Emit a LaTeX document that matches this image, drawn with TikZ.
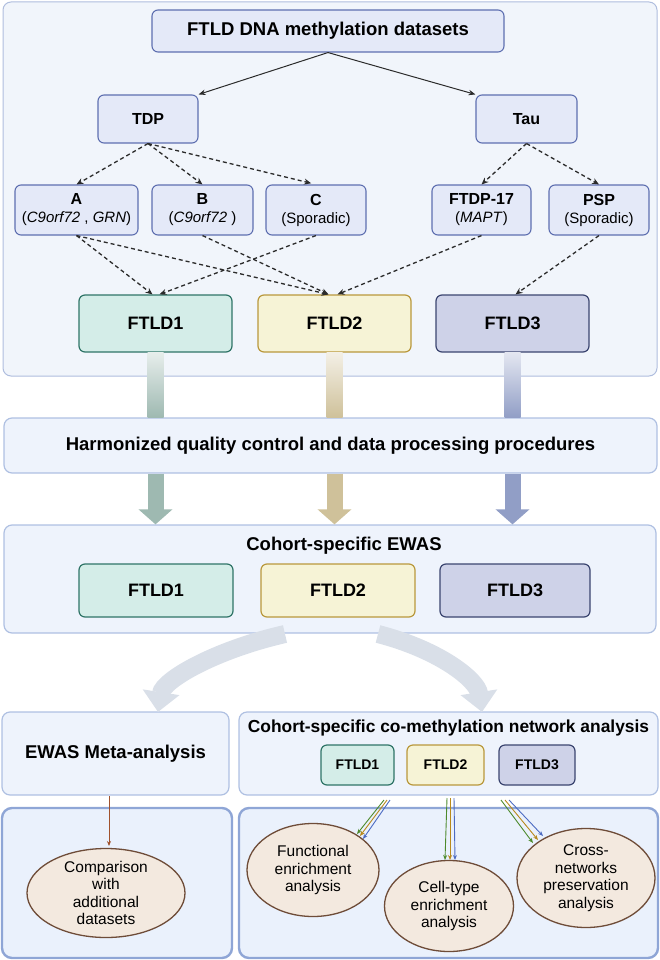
\documentclass[tikz,border=0pt]{standalone}
\usepackage{fontspec}
\setmainfont{Liberation Sans}
\usetikzlibrary{arrows.meta,shapes.geometric,calc}
\newcommand{\myfs}[2]{\fontsize{#1}{#2}\selectfont}
\definecolor{outerfill}{HTML}{F1F5FB}
\definecolor{outerdraw}{HTML}{AFBDDE}
\definecolor{boxfill}{HTML}{E4E9F8}
\definecolor{boxdraw}{HTML}{5E6FB0}
\definecolor{harmfill}{HTML}{EEF3FC}
\definecolor{harmdraw}{HTML}{AFC0E2}
\definecolor{gAfill}{HTML}{D4EDE8}
\definecolor{gAdraw}{HTML}{2F7467}
\definecolor{gBfill}{HTML}{F6F3D6}
\definecolor{gBdraw}{HTML}{B9983C}
\definecolor{gCfill}{HTML}{CED2E8}
\definecolor{gCdraw}{HTML}{3B4570}
\definecolor{panelfill}{HTML}{EAF1FC}
\definecolor{paneldraw}{HTML}{8FA6D6}
\definecolor{ellfill}{HTML}{F3E9DF}
\definecolor{elldraw}{HTML}{6E4C38}
\definecolor{arcgray}{HTML}{D9DFE8}
\definecolor{arA}{HTML}{9EB9B1}
\definecolor{arB}{HTML}{CFC19A}
\definecolor{arC}{HTML}{919EC6}
\definecolor{lgreen}{HTML}{4D8A2C}
\definecolor{lgold}{HTML}{B8891C}
\definecolor{lblue}{HTML}{4C6BC2}
\definecolor{lbrown}{HTML}{A0522D}
\definecolor{darkline}{HTML}{2B2B2B}
\begin{document}
\begin{tikzpicture}[x=1pt,y=-1pt,
  panel/.style={draw=outerdraw, fill=outerfill, rounded corners=8pt, line width=1pt, inner sep=0pt},
  lpanel/.style={draw=harmdraw, fill=harmfill, rounded corners=8pt, line width=1.2pt, inner sep=0pt},
  bpanel/.style={draw=paneldraw, fill=panelfill, rounded corners=10pt, line width=2.4pt, inner sep=0pt},
  rbox/.style={draw=boxdraw, fill=boxfill, rounded corners=6pt, line width=1.1pt, inner sep=0pt, align=center},
  grpA/.style={draw=gAdraw, fill=gAfill, rounded corners=6pt, line width=1.2pt, inner sep=0pt, font=\bfseries\myfs{18}{20}},
  grpB/.style={draw=gBdraw, fill=gBfill, rounded corners=6pt, line width=1.2pt, inner sep=0pt, font=\bfseries\myfs{18}{20}},
  grpC/.style={draw=gCdraw, fill=gCfill, rounded corners=6pt, line width=1.2pt, inner sep=0pt, font=\bfseries\myfs{18}{20}},
  ell/.style={ellipse, draw=elldraw, fill=ellfill, line width=1.3pt, inner sep=-14pt, align=center, font=\myfs{15.5}{17.5}},
  solidarr/.style={draw=darkline, line width=1pt, -{Stealth[length=7pt,width=5.5pt]}},
  dasharr/.style={draw=darkline, line width=1.3pt, dash pattern=on 4pt off 3pt, -{Stealth[length=7pt,width=6pt]}},
  thinarr/.style={line width=0.9pt, -{Stealth[length=5pt,width=4pt]}},
  bigarr/.style={line width=16pt, -{Triangle[width=33pt,length=15pt]}},
  arcarr/.style={draw=arcgray, line width=18pt, -{Triangle[width=36pt,length=20pt]}}
]
\useasboundingbox (0,0) rectangle (660,960);

% top panel
\node[panel, minimum width=654pt, minimum height=374pt] (outer) at (330,189) {};

\node[rbox, minimum width=352pt, minimum height=42pt, font=\bfseries\myfs{18.5}{22}] (title) at (328,31) {FTLD DNA methylation datasets};
\node[rbox, minimum width=100pt, minimum height=48pt, font=\bfseries\myfs{16}{18}] (tdp) at (148,119) {TDP};
\node[rbox, minimum width=101pt, minimum height=48pt, font=\bfseries\myfs{16}{18}] (tau) at (526.5,119) {Tau};

\node[rbox, minimum width=123pt, minimum height=50pt, font=\myfs{15}{18}] (A) at (76.5,210) {{\bfseries\myfs{16}{18}A}\\(\textit{C9orf72} , \textit{GRN})};
\node[rbox, minimum width=101pt, minimum height=50pt, font=\myfs{15}{18}] (B) at (202.5,210) {{\bfseries\myfs{16}{18}B}\\(\textit{C9orf72} )};
\node[rbox, minimum width=100pt, minimum height=50pt, font=\myfs{15}{18}] (C) at (316,210) {{\bfseries\myfs{16}{18}C}\\(Sporadic)};
\node[rbox, minimum width=99pt, minimum height=50pt, font=\myfs{15}{18}] (fdp) at (481.5,210) {{\bfseries\myfs{16}{18}FTDP-17}\\(\textit{MAPT})};
\node[rbox, minimum width=100pt, minimum height=50pt, font=\myfs{15}{18}] (psp) at (599,210) {{\bfseries\myfs{16}{18}PSP}\\(Sporadic)};

\node[grpA, minimum width=153pt, minimum height=57pt] (ftA) at (155.5,323.5) {FTLD1};
\node[grpB, minimum width=153pt, minimum height=57pt] (ftB) at (334.5,323.5) {FTLD2};
\node[grpC, minimum width=153pt, minimum height=57pt] (ftC) at (512.5,323.5) {FTLD3};

\draw[solidarr] (title.south) -- (tdp.north east);
\draw[solidarr] (title.south) -- (tau.north west);
\draw[dasharr] (tdp.south) -- (A.north);
\draw[dasharr] (tdp.south) -- (B.north);
\draw[dasharr, shorten >=5pt] (tdp.south) -- (C.north);
\draw[dasharr] (tau.south) -- (fdp.north);
\draw[dasharr] (tau.south) -- (psp.north);
\draw[dasharr] (A.south) -- ([xshift=-3pt]ftA.north);
\draw[dasharr] (A.south) -- ([xshift=-6pt]ftB.north);
\draw[dasharr] (B.south) -- ([xshift=-6pt]ftB.north);
\draw[dasharr] (C.south) -- ([xshift=4pt]ftA.north);
\draw[dasharr] (fdp.south) -- ([xshift=3pt]ftB.north);
\draw[dasharr] (psp.south) -- ([xshift=3pt]ftC.north);

% harmonized
\node[lpanel, minimum width=653pt, minimum height=55pt, font=\bfseries\myfs{18.5}{22}] (harm) at (330.5,445.5) {Harmonized quality control and data processing procedures};

\shade[top color=arA!25!white, bottom color=arA] ([xshift=-8pt]ftA.south) rectangle ([xshift=8pt]ftA.south |- harm.north);
\shade[top color=arB!25!white, bottom color=arB] ([xshift=-8pt]ftB.south) rectangle ([xshift=8pt]ftB.south |- harm.north);
\shade[top color=arC!25!white, bottom color=arC] ([xshift=-8pt]ftC.south) rectangle ([xshift=8pt]ftC.south |- harm.north);

% cohort-specific EWAS
\node[lpanel, minimum width=652pt, minimum height=108pt] (ewas) at (330,579) {};
\node[font=\bfseries\myfs{18.5}{22}] (ewastitle) at (344,546) {Cohort-specific EWAS};
\node[grpA, minimum width=154pt, minimum height=53pt] (eA) at (156,590.5) {FTLD1};
\node[grpB, minimum width=154pt, minimum height=53pt] (eB) at (338,590.5) {FTLD2};
\node[grpC, minimum width=150pt, minimum height=53pt] (eC) at (515,590.5) {FTLD3};

\draw[bigarr, arA] (ftA.south |- harm.south) -- (ftA.south |- ewas.north);
\draw[bigarr, arB] (ftB.south |- harm.south) -- (ftB.south |- ewas.north);
\draw[bigarr, arC] (ftC.south |- harm.south) -- (ftC.south |- ewas.north);

% lower boxes
\node[lpanel, minimum width=227pt, minimum height=83pt, font=\bfseries\myfs{18.5}{22}] (meta) at (115.5,753.5) {EWAS Meta-analysis};
\node[lpanel, minimum width=419pt, minimum height=83pt] (cometh) at (448.5,753.5) {};
\node[font=\bfseries\myfs{17.4}{20}] (comethtitle) at (448.5,728) {Cohort-specific co-methylation network analysis};
\node[grpA, minimum width=73pt, minimum height=40pt, font=\bfseries\myfs{14}{16}] (sA) at (357.5,765) {FTLD1};
\node[grpB, minimum width=77pt, minimum height=40pt, font=\bfseries\myfs{14}{16}] (sB) at (445.5,765) {FTLD2};
\node[grpC, minimum width=76pt, minimum height=40pt, font=\bfseries\myfs{14}{16}] (sC) at (537,765) {FTLD3};

% curved arrows
\coordinate (arcL0) at (285,634);
\coordinate (arcL1) at (158,712);
\coordinate (arcR0) at (378,634);
\coordinate (arcR1) at (482,712);
\draw[arcarr] (arcL0) .. controls (215,650) and (163,680) .. (arcL1);
\draw[arcarr] (arcR0) .. controls (440,650) and (477,680) .. (arcR1);

% bottom panels
\node[bpanel, minimum width=230pt, minimum height=150pt] (botL) at (117,883) {};
\node[bpanel, minimum width=419pt, minimum height=150pt] (botR) at (448.5,883) {};

\node[ell, minimum width=158pt, minimum height=89pt] (comp) at (106,893) {Comparison\\with\\additional\\datasets};
\node[ell, minimum width=132pt, minimum height=93pt] (func) at (313,870) {Functional\\enrichment\\analysis};
\node[ell, minimum width=129pt, minimum height=91pt] (cell) at (449,906) {Cell-type\\enrichment\\analysis};
\node[ell, minimum width=138pt, minimum height=99pt] (cross) at (586,878) {Cross-\\networks\\preservation\\analysis};

% brown arrow
\coordinate (b0) at (109,796);
\coordinate (b1) at (109,846);
\draw[thinarr, lbrown] (b0) -- (b1);

% coloured bundles
\coordinate (l1s) at (384,800); \coordinate (l1e) at (357,834);
\coordinate (l2s) at (387,800); \coordinate (l2e) at (360,836);
\coordinate (l3s) at (390,800); \coordinate (l3e) at (363,839);
\draw[thinarr, lgreen] (l1s) -- (l1e);
\draw[thinarr, lgold] (l2s) -- (l2e);
\draw[thinarr, lblue] (l3s) -- (l3e);
\coordinate (m1s) at (447,798); \coordinate (m1e) at (445,860);
\coordinate (m2s) at (450,798); \coordinate (m2e) at (450,860);
\coordinate (m3s) at (454,798); \coordinate (m3e) at (455,860);
\draw[thinarr, lgreen] (m1s) -- (m1e);
\draw[thinarr, lgold] (m2s) -- (m2e);
\draw[thinarr, lblue] (m3s) -- (m3e);
\coordinate (r1s) at (501,800); \coordinate (r1e) at (533,843);
\coordinate (r2s) at (505,800); \coordinate (r2e) at (538,840);
\coordinate (r3s) at (509,800); \coordinate (r3e) at (543,836);
\draw[thinarr, lgreen] (r1s) -- (r1e);
\draw[thinarr, lgold] (r2s) -- (r2e);
\draw[thinarr, lblue] (r3s) -- (r3e);
\end{tikzpicture}
\end{document}
